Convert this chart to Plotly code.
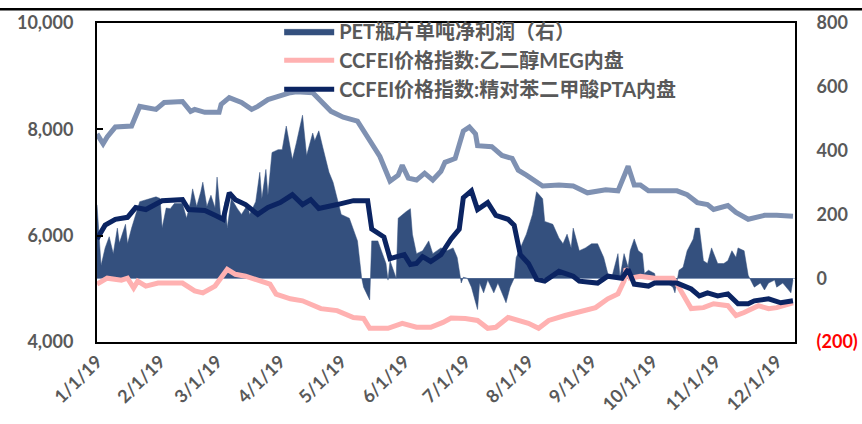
import pandas as pd
import plotly.graph_objects as go

# ---- data (day offsets from 2019-01-01) ----
pet_price_day = [0, 3, 5, 9, 17, 19, 21, 29, 33, 42, 46, 48, 53, 60, 61, 65, 71, 76, 79, 84, 88,
                 95, 98, 106, 115, 121, 128, 133, 139, 144, 148, 150, 153, 157, 161, 165, 169, 171,
                 176, 180, 183, 186, 187, 194, 199, 204, 207, 211, 219, 227, 234, 241, 250, 256,
                 259, 261, 264, 267, 271, 285, 290, 295, 300, 303, 310, 314, 320, 328, 334, 342]
pet_price = [7914, 7729, 7858, 8043, 8062, 8246, 8431, 8375, 8505, 8523, 8338, 8375, 8320, 8320,
             8468, 8597, 8505, 8375, 8431, 8560, 8615, 8689, 8708, 8689, 8338, 8228, 8154, 7858,
             7489, 7028, 7138, 7323, 7083, 7046, 7175, 7046, 7212, 7380, 7452, 7969, 8043, 7914,
             7692, 7674, 7508, 7452, 7231, 7138, 6935, 6954, 6935, 6806, 6862, 6843, 7120, 7305,
             6954, 6954, 6843, 6843, 6769, 6622, 6585, 6492, 6566, 6437, 6308, 6382, 6382, 6363]

pta_day = [0, 4, 9, 15, 19, 24, 32, 42, 45, 53, 58, 62, 65, 68, 73, 79, 84, 90, 96, 101, 105, 109,
           118, 126, 133, 135, 141, 144, 151, 154, 157, 160, 164, 169, 174, 178, 180, 184, 187,
           192, 196, 202, 205, 208, 212, 216, 220, 227, 234, 237, 246, 251, 258, 261, 264, 271,
           274, 285, 292, 296, 300, 305, 310, 315, 320, 323, 330, 336, 342]
pta = [5938, 6197, 6308, 6345, 6529, 6492, 6658, 6677, 6492, 6474, 6382, 6308, 6806, 6677, 6585,
       6400, 6529, 6622, 6769, 6585, 6677, 6511, 6585, 6658, 6658, 6123, 5975, 5569, 5643, 5458,
       5477, 5606, 5514, 5643, 5938, 6123, 6714, 6843, 6492, 6622, 6382, 6308, 6197, 5643, 5477,
       5181, 5145, 5329, 5237, 5145, 5108, 5237, 5200, 5366, 5089, 5052, 5108, 5108, 4997, 4868,
       4923, 4868, 4905, 4720, 4720, 4775, 4812, 4738, 4775]

meg_day = [0, 5, 12, 15, 18, 20, 24, 30, 42, 48, 52, 58, 64, 68, 73, 81, 85, 88, 95, 101, 110, 118,
           126, 131, 134, 143, 150, 157, 164, 170, 174, 181, 187, 192, 196, 202, 207, 212, 217, 222,
           230, 240, 245, 251, 256, 259, 260, 262, 267, 274, 283, 285, 288, 292, 298, 303, 310, 314,
           318, 325, 330, 334, 342]
meg = [5089, 5200, 5163, 5200, 5015, 5145, 5052, 5108, 5108, 4960, 4923, 5052, 5366, 5274, 5237,
       5145, 5089, 4900, 4812, 4775, 4628, 4591, 4462, 4443, 4258, 4258, 4351, 4277, 4277, 4369,
       4450, 4443, 4406, 4258, 4277, 4462, 4406, 4351, 4258, 4406, 4498, 4591, 4646, 4812, 4905,
       5145, 5385, 5200, 5237, 5200, 5200, 5089, 4905, 4628, 4646, 4720, 4683, 4498, 4554, 4683,
       4628, 4646, 4738]

profit_day = [0, 2, 4, 6, 8, 10, 11, 14, 15, 17, 21, 24, 26, 29, 31, 32, 34, 36, 38, 42, 44, 46, 47,
              49, 51, 52, 54, 56, 58, 59, 61, 63, 64, 66, 69, 71, 74, 75, 78, 80, 81, 83, 84, 86,
              89, 91, 93, 96, 98, 101, 103, 106, 107, 109, 111, 114, 116, 120, 124, 128, 130, 131,
              134, 135, 138, 142, 143, 144, 147, 148, 152, 154, 155, 157, 160, 163, 165, 169, 172,
              175, 177, 179, 180, 182, 184, 187, 188, 190, 192, 195, 197, 201, 203, 205, 206, 208,
              211, 214, 216, 219, 220, 224, 227, 229, 231, 233, 234, 237, 240, 243, 246, 249, 251,
              253, 256, 257, 259, 261, 262, 264, 266, 268, 269, 271, 274, 275, 280, 283, 284, 286,
              288, 290, 293, 294, 296, 298, 300, 302, 303, 305, 308, 310, 312, 314, 315, 318, 320,
              323, 326, 328, 330, 333, 334, 337, 341, 342]
profit = [230, 40, 95, 130, 77, 157, 110, 169, 108, 157, 240, 246, 249, 255, 250, 157, 220, 218, 234,
          234, 188, 240, 280, 225, 271, 301, 225, 260, 220, 317, 178, 240, 157, 250, 218, 200, 230,
          200, 240, 332, 249, 341, 260, 394, 403, 403, 477, 372, 425, 511, 385, 455, 431, 462, 409,
          332, 301, 200, 188, 117, 3, -28, -68, 117, 117, 46, -6, 55, 0, 188, 209, 218, 138, 77, 86,
          117, 77, 95, 86, 95, 65, -15, 3, 0, -28, -98, -15, -46, -6, -46, -15, -77, -28, 0, 65, 95,
          138, 200, 271, 249, 178, 169, 126, 108, 138, 95, 157, 86, 95, 108, 108, 65, 15, 3, 77, 3,
          77, 34, 86, 123, 86, 77, 15, 25, 15, -15, -15, -28, -46, 25, 34, 86, 123, 157, 157, 55,
          46, 95, 77, 46, 46, 55, 86, 65, 95, 86, 9, -28, -15, -37, -15, -6, -28, -15, -46, -6]

month_ticks = ["2019-%02d-01" % m for m in range(1, 13)]

start = pd.Timestamp("2019-01-01")


def to_dates(days):
    return [start + pd.Timedelta(days=d) for d in days]


GRAY = "#595959"
FONT = "Lato, 'Noto Sans CJK SC', sans-serif"

fig = go.Figure()

# area on primary (right-side) axis so lines draw on top
fig.add_trace(go.Scatter(
    x=to_dates(profit_day), y=profit, name="PET瓶片单吨净利润（右）",
    mode="lines", fill="tozeroy", fillcolor="#34507e",
    line=dict(color="#34507e", width=0.5), yaxis="y"))

fig.add_trace(go.Scatter(
    x=to_dates(pet_price_day), y=pet_price, name="PET瓶片价格", showlegend=False,
    mode="lines", line=dict(color="#7f91b2", width=5), yaxis="y2"))

fig.add_trace(go.Scatter(
    x=to_dates(meg_day), y=meg, name="CCFEI价格指数:乙二醇MEG内盘",
    mode="lines", line=dict(color="#ffb1b1", width=5), yaxis="y2"))

fig.add_trace(go.Scatter(
    x=to_dates(pta_day), y=pta, name="CCFEI价格指数:精对苯二甲酸PTA内盘",
    mode="lines", line=dict(color="#0b2462", width=5), yaxis="y2"))

tickfont = dict(family=FONT, size=18, color=GRAY, weight=700)

fig.update_layout(
    width=862, height=424, autosize=False,
    margin=dict(l=97, r=67, t=17, b=82),
    paper_bgcolor="white", plot_bgcolor="white",
    showlegend=True,
    legend=dict(x=0.261, y=1.035, xanchor="left", yanchor="top",
                bgcolor="rgba(0,0,0,0)", tracegroupgap=0, itemwidth=50,
                font=dict(family=FONT, size=20, color=GRAY, weight=700)),
    xaxis=dict(type="date", range=["2019-01-01", "2019-12-10"],
               tickvals=month_ticks, tickformat="%-m/%-d/%y", tickangle=-45,
               showgrid=False, zeroline=False, showline=True, linecolor="black",
               linewidth=2, mirror=True, ticks="", tickfont=tickfont, automargin=False),
    yaxis=dict(side="right", range=[-200, 800],
               tickvals=[-200, 0, 200, 400, 600, 800],
               ticktext=['<span style="color:#ff0000">(200)</span>', "0", "200", "400", "600", "800"],
               showgrid=False, zeroline=True, zerolinecolor="#9aabc8", zerolinewidth=1,
               showline=True, linecolor="black", linewidth=2, ticks="",
               ticklabelstandoff=16, tickfont=tickfont, automargin=False),
    yaxis2=dict(side="left", overlaying="y", range=[4000, 10000],
                tickvals=[4000, 6000, 8000, 10000], tickformat=",",
                showgrid=False, zeroline=False, showline=True, linecolor="black",
                linewidth=2, ticks="inside", ticklen=6, tickwidth=2, tickcolor="black",
                ticklabelstandoff=18, tickfont=tickfont, automargin=False),
    shapes=[dict(type="line", xref="paper", yref="paper",
                 x0=-0.14, x1=1.1, y0=1.043, y1=1.043,
                 line=dict(color="black", width=2.5))],
)

fig.write_html("out.html", config={"displayModeBar": False},
               post_script="document.body.style.margin='0px';")
